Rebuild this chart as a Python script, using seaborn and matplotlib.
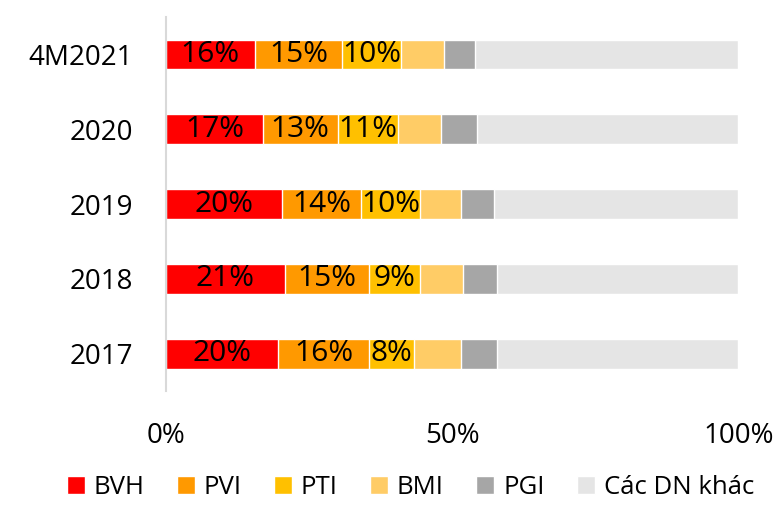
import pandas as pd
import seaborn as sns
import matplotlib.pyplot as plt

periods = ['4M2021', '2020', '2019', '2018', '2017']
companies = ['BVH', 'PVI', 'PTI', 'BMI', 'PGI', 'Các DN khác']
bvh = [15.5, 16.9, 20.2, 20.8, 19.6]
pvi = [15.3, 13.1, 13.9, 14.7, 15.9]
pti = [10.2, 10.6, 10.3, 8.9, 7.9]
bmi = [7.5, 7.5, 7.2, 7.5, 8.2]
pgi = [5.5, 6.3, 5.7, 6.0, 6.3]
colors = ['#FF0000', '#FF9900', '#FFC000', '#FFCC66', '#A6A6A6', '#E5E5E5']

df = pd.DataFrame({'period': periods, 'BVH': bvh, 'PVI': pvi, 'PTI': pti,
                   'BMI': bmi, 'PGI': pgi})
df['Các DN khác'] = 100 - df[companies[:-1]].sum(axis=1)

sns.set_style('white')
plt.rcParams['font.family'] = ['Open Sans', 'DejaVu Sans']
plt.rcParams['text.color'] = 'black'
plt.rcParams['xtick.color'] = 'black'
plt.rcParams['ytick.color'] = 'black'

fig = plt.figure(figsize=(7.77, 5.18), dpi=100)
ax = fig.add_axes([0.2136, 0.245, 0.9502 - 0.2136, 0.967 - 0.245])

# stacked bars: draw cumulative totals from the largest down
cum = df[companies].cumsum(axis=1)
for name, col in reversed(list(zip(companies, colors))):
    sns.barplot(x=cum[name], y=df['period'], color=col, width=0.4,
                orient='h', ax=ax, saturation=1, label=name)

# value labels for first three segments
for name in ['BVH', 'PVI', 'PTI']:
    for i, p in enumerate(periods):
        v = df.loc[i, name]
        centre = cum.loc[i, name] - v / 2
        ax.text(centre, i, f'{round(v):.0f}%', ha='center', va='center',
                fontsize=21.5, color='black')

ax.set_xlim(0, 100)
ax.set_xticks([0, 50, 100])
ax.set_xticklabels(['0%', '50%', '100%'])
ax.set_xlabel('')
ax.set_ylabel('')
ax.tick_params(axis='x', labelsize=20, length=0, pad=22, colors='black')
ax.tick_params(axis='y', labelsize=20, length=0, pad=24, colors='black')
for s in ['top', 'right', 'bottom']:
    ax.spines[s].set_visible(False)
ax.spines['left'].set_color('#D9D9D9')
ax.spines['left'].set_linewidth(1.5)

handles, labels = ax.get_legend_handles_labels()
order = [labels.index(c) for c in companies]
if ax.legend_:
    ax.legend_.remove()
fig.legend([handles[k] for k in order], companies, loc='lower center',
           bbox_to_anchor=(0.528, -0.01), ncol=6, frameon=False,
           fontsize=18.5, handlelength=0.7, handleheight=0.7,
           handletextpad=0.35, columnspacing=1.25)

fig.savefig('out.png', dpi=100)
